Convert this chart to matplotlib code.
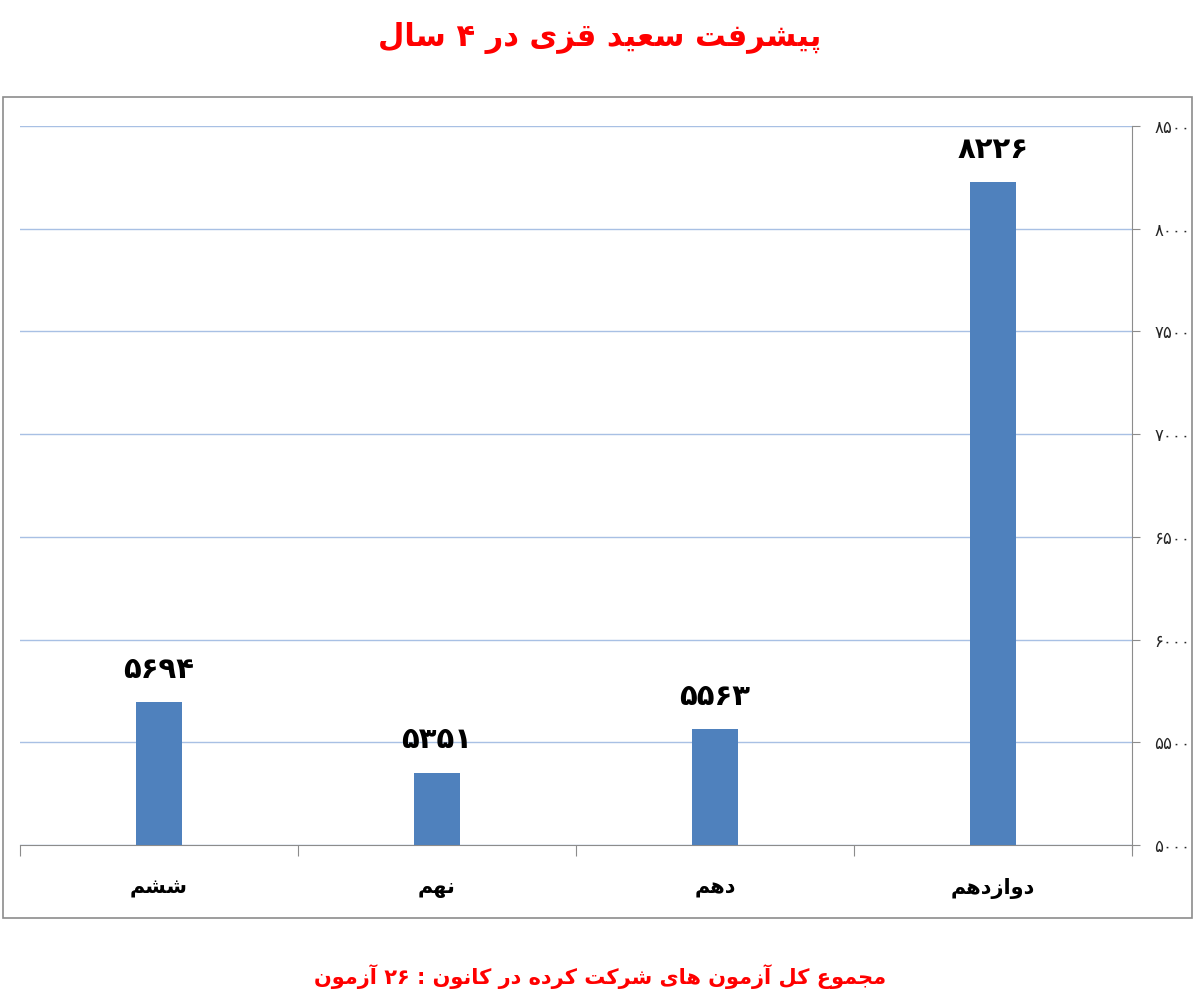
import numpy as np
import matplotlib
matplotlib.use("Agg")
import matplotlib.pyplot as plt
from matplotlib.patches import Rectangle

# chart data
categories = ["ششم", "نهم", "دهم", "دوازدهم"]
scores = [5694, 5351, 5563, 8226]
y_ticks = [5000, 5500, 6000, 6500, 7000, 7500, 8000, 8500]
title = "پیشرفت سعید قزی در ۴ سال"
footer = "مجموع کل آزمون های شرکت کرده در کانون : ۲۶ آزمون"

# (isolated, final, initial, medial); two-form letters only join on the right
FORMS = {
    "ا": (0xFE8D, 0xFE8E), "آ": (0xFE81, 0xFE82),
    "د": (0xFEA9, 0xFEAA), "ر": (0xFEAD, 0xFEAE),
    "ز": (0xFEAF, 0xFEB0), "و": (0xFEED, 0xFEEE),
    "پ": (0xFB56, 0xFB57, 0xFB58, 0xFB59),
    "ت": (0xFE95, 0xFE96, 0xFE97, 0xFE98),
    "ج": (0xFE9D, 0xFE9E, 0xFE9F, 0xFEA0),
    "س": (0xFEB1, 0xFEB2, 0xFEB3, 0xFEB4),
    "ش": (0xFEB5, 0xFEB6, 0xFEB7, 0xFEB8),
    "ع": (0xFEC9, 0xFECA, 0xFECB, 0xFECC),
    "ف": (0xFED1, 0xFED2, 0xFED3, 0xFED4),
    "ق": (0xFED5, 0xFED6, 0xFED7, 0xFED8),
    "ک": (0xFB8E, 0xFB8F, 0xFB90, 0xFB91),
    "ل": (0xFEDD, 0xFEDE, 0xFEDF, 0xFEE0),
    "م": (0xFEE1, 0xFEE2, 0xFEE3, 0xFEE4),
    "ن": (0xFEE5, 0xFEE6, 0xFEE7, 0xFEE8),
    "ه": (0xFEE9, 0xFEEA, 0xFEEB, 0xFEEC),
    "ی": (0xFBFC, 0xFBFD, 0xFBFE, 0xFBFF),
}
PERSIAN_DIGITS = "۰۱۲۳۴۵۶۷۸۹"


def fa_digits(n):
    return "".join(PERSIAN_DIGITS[int(c)] for c in str(n))


def rtl(text):
    # join letters into contextual forms, then lay the line out right to left
    out = []
    for i, ch in enumerate(text):
        f = FORMS.get(ch)
        if f is None:
            out.append(ch)
            continue
        prev = text[i - 1] if i > 0 else ""
        nxt = text[i + 1] if i + 1 < len(text) else ""
        j_prev = prev in FORMS and len(FORMS[prev]) == 4
        j_next = len(f) == 4 and nxt in FORMS
        if j_prev and j_next:
            out.append(chr(f[3]))
        elif j_prev:
            out.append(chr(f[1]))
        elif j_next:
            out.append(chr(f[2]))
        else:
            out.append(chr(f[0]))
    vis = "".join(reversed(out))
    # digit runs stay left to right
    res, run = [], ""
    for ch in vis:
        if ch in PERSIAN_DIGITS or ch.isdigit():
            run += ch
        else:
            res.append(run[::-1])
            run = ""
            res.append(ch)
    res.append(run[::-1])
    return "".join(res)


plt.rcParams["font.family"] = ["DejaVu Sans"]

fig = plt.figure(figsize=(12, 10.05), dpi=100)
fig.patches.append(Rectangle((0.0025, 0.0866), 0.9908, 0.8169,
                             transform=fig.transFigure, fill=False,
                             edgecolor="#8c8c8c", linewidth=1.2))

ax = fig.add_axes([0.0167, 0.1592, 0.9266, 0.7154])
x = np.arange(len(categories))
ax.bar(x, np.array(scores) - 5000, bottom=5000, width=0.165,
       color="#4f81bd", zorder=3)

for xi, v in zip(x, scores):
    ax.text(xi, v + 90, fa_digits(v), ha="center", va="bottom",
            fontsize=21, fontweight="bold", color="black")

ax.set_xlim(-0.5, len(categories) - 0.5)
ax.set_ylim(5000, 8500)
ax.yaxis.tick_right()
ax.set_yticks(y_ticks)
ax.set_yticklabels([fa_digits(t) for t in y_ticks], fontsize=12,
                   color="#262626")
ax.tick_params(axis="y", length=6, color="#8c8c8c", pad=10)
ax.grid(axis="y", color="#a8c0e4", linewidth=1.0, zorder=0)

ax.set_xticks(np.arange(-0.5, len(categories)), minor=False)
ax.set_xticklabels([])
ax.set_xticks(x, minor=True)
ax.set_xticklabels([rtl(c) for c in categories], minor=True, fontsize=15,
                   fontweight="bold")
ax.tick_params(axis="x", which="major", length=8, color="#8c8c8c",
               direction="out")
ax.tick_params(axis="x", which="minor", length=0, pad=24)

for s in ["top", "left"]:
    ax.spines[s].set_visible(False)
ax.spines["right"].set_color("#8c8c8c")
ax.spines["bottom"].set_color("#8c8c8c")
ax.spines["right"].set_bounds(4980, 8500)

fig.text(0.5, 0.962, rtl(title), ha="center", va="center", fontsize=22,
         fontweight="bold", color="#ff0000")
fig.text(0.5, 0.028, rtl(footer), ha="center", va="center", fontsize=15,
         fontweight="bold", color="#ff0000")

fig.savefig("out.png", dpi=100)
